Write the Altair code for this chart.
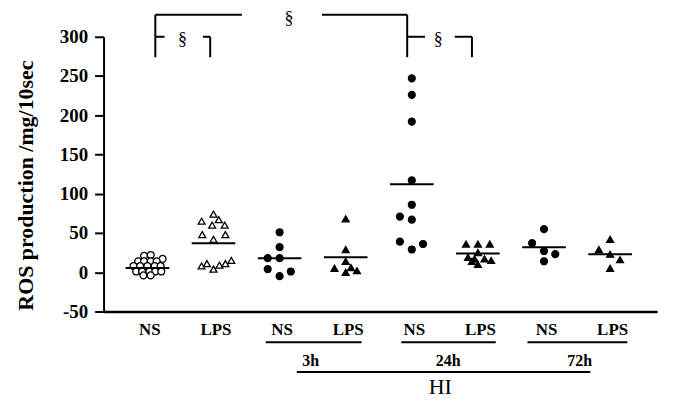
import altair as alt
import pandas as pd

# ---------------- data ----------------
group_labels = ["NS", "LPS", "NS", "LPS", "NS", "LPS", "NS", "LPS"]
group_marker = ["circle", "triangle", "circle", "triangle", "circle", "triangle", "circle", "triangle"]
group_fill = ["open", "open", "solid", "solid", "solid", "solid", "solid", "solid"]

ctrl_ns = [21, 22, 17, 14, 14, 14, 14, 8, 8, 8, 8, 8, 1, 1, 1, 1, 1, -4, -4]
ctrl_ns_jit = [-0.05, 0.05, 0.23, -0.14, -0.05, 0.05, 0.14, -0.21, -0.11, 0, 0.11, 0.2,
               -0.17, -0.08, 0.03, 0.12, 0.21, -0.06, 0.05]
ctrl_lps = [74, 67, 65, 60, 60, 48, 48, 42, 8, 11, 4, 9, 11, 15]
ctrl_lps_jit = [0, 0.08, -0.18, -0.02, 0.17, -0.17, 0.18, 0, -0.18, -0.1, 0, 0.09, 0.18, 0.27]
h3_ns = [51, 32, 18, 18, 4, 1, -5]
h3_ns_jit = [0, 0, -0.18, 0, -0.18, 0.17, 0]
h3_lps = [68, 29, 14, 5, 6, 0, 2]
h3_lps_jit = [0, 0, 0, -0.17, 0.08, 0, 0.17]
h24_ns = [247, 226, 192, 117, 86, 71, 67, 39, 29, 36]
h24_ns_jit = [0, 0, 0, 0, 0, -0.18, 0, -0.18, 0, 0.17]
h24_lps = [36, 36, 36, 25, 19, 17, 17, 15, 14, 10]
h24_lps_jit = [-0.18, 0, 0.18, 0, -0.15, -0.05, 0.1, 0.2, -0.09, 0]
h72_ns = [55, 37, 27, 23, 14]
h72_ns_jit = [0, -0.18, 0, 0.17, 0]
h72_lps = [42, 29, 23, 16, 5]
h72_lps_jit = [0, -0.17, 0, 0.15, 0]

group_means = [5.5, 37, 18, 19, 112, 24, 32, 23]

y_ticks = [-50, 0, 50, 100, 150, 200, 250, 300]

# significance brackets (data units: x = group index, y = ROS value)
bracket_x1 = [0.12, 2.64, 0.12, 3.93, 0.12, 0.84, 0.95, 3.93, 4.65, 4.91]
bracket_x2 = [1.43, 3.93, 0.12, 3.93, 0.26, 0.95, 0.95, 4.20, 4.91, 4.91]
bracket_y1 = [328, 328, 274, 274, 300, 300, 274, 300, 300, 274]
bracket_y2 = [328, 328, 328, 328, 300, 300, 300, 300, 300, 300]
sig_x = [2.14, 0.53, 4.40]
sig_y = [322, 296, 296]
sig_text = ["§", "§", "§"]

# lower group annotations
under_x1 = [1.79, 3.84, 5.75, 2.26]
under_x2 = [3.24, 5.27, 7.26, 6.70]
under_y = [-89, -89, -89, -127]
time_labels = ["3h", "24h", "72h"]
time_x = [2.47, 4.55, 6.54]
time_y = [-113.5, -113.5, -113.5]
hi_label = ["HI"]
hi_x = [4.43]
hi_y = [-146.5]

# ---------------- tables ----------------
series = [ctrl_ns, ctrl_lps, h3_ns, h3_lps, h24_ns, h24_lps, h72_ns, h72_lps]
jits = [ctrl_ns_jit, ctrl_lps_jit, h3_ns_jit, h3_lps_jit, h24_ns_jit, h24_lps_jit, h72_ns_jit, h72_lps_jit]
rows = []
for gi, (vals, jj) in enumerate(zip(series, jits)):
    for v, j in zip(vals, jj):
        rows.append({"pos": gi + j, "val": v, "marker": group_marker[gi], "fill": group_fill[gi]})
points = pd.DataFrame(rows)
means = pd.DataFrame({"g": list(range(8)), "mean": group_means})
brackets = pd.DataFrame({"x1": bracket_x1, "x2": bracket_x2, "y1": bracket_y1, "y2": bracket_y2})
sigs = pd.DataFrame({"x": sig_x, "y": sig_y, "t": sig_text})
unders = pd.DataFrame({"x1": under_x1, "x2": under_x2, "y": under_y})
times = pd.DataFrame({"x": time_x, "y": time_y, "t": time_labels})
his = pd.DataFrame({"x": hi_x, "y": hi_y, "t": hi_label})

FONT = "Liberation Serif"
xscale = alt.Scale(domain=[-0.663, 7.71], nice=False, zero=False)
yscale = alt.Scale(domain=[-50, 300], nice=False, zero=False)

label_expr = "[" + ",".join("'" + s + "'" for s in group_labels) + "][datum.value]"

xaxis = alt.Axis(values=list(range(8)), labelExpr=label_expr, title=None, ticks=False,
                 grid=False, domainColor="black", domainWidth=2.5, labelFont=FONT,
                 labelFontWeight="bold", labelFontSize=17, labelColor="black",
                 labelPadding=10, labelOffset=2, labelFlush=False, labelOverlap=False)
yaxis = alt.Axis(values=y_ticks, labelExpr="'' + datum.value", title="ROS production /mg/10sec",
                 grid=False, domainColor="black", domainWidth=2, tickColor="black",
                 tickWidth=2, tickSize=9, labelFont=FONT, labelFontWeight="bold",
                 labelFontSize=19, labelColor="black", labelPadding=7,
                 labelOverlap=False, labelFlush=False,
                 titleFont=FONT, titleFontWeight="bold", titleFontSize=22,
                 titleColor="black", titleAngle=-90, titleX=-78, titleY=149,
                 titleAlign="center", titleBaseline="middle")


def X(field):
    return alt.X(field, scale=xscale, axis=xaxis)


def Y(field):
    return alt.Y(field, scale=yscale, axis=yaxis)


pts = alt.Chart(points).mark_point(filled=True, stroke="black", strokeWidth=1.3, size=48, opacity=1).encode(
    x=X("pos:Q"),
    y=Y("val:Q"),
    shape=alt.Shape("marker:N", scale=alt.Scale(domain=["circle", "triangle"], range=["circle", "triangle-up"]), legend=None),
    fill=alt.Fill("fill:N", scale=alt.Scale(domain=["open", "solid"], range=["white", "black"]), legend=None),
)

mean_lines = alt.Chart(means).transform_calculate(
    a="datum.g - 0.33", b="datum.g + 0.33"
).mark_rule(color="black", strokeWidth=2).encode(
    x=X("a:Q"), x2="b:Q", y=Y("mean:Q")
)

br = alt.Chart(brackets).mark_rule(color="black", strokeWidth=2).encode(
    x=X("x1:Q"), x2="x2:Q", y=Y("y1:Q"), y2="y2:Q"
)
sg = alt.Chart(sigs).mark_text(font=FONT, fontSize=18, color="black").encode(
    x=X("x:Q"), y=Y("y:Q"), text="t:N"
)
un = alt.Chart(unders).mark_rule(color="black", strokeWidth=2).encode(
    x=X("x1:Q"), x2="x2:Q", y=Y("y:Q")
)
tm = alt.Chart(times).mark_text(font=FONT, fontSize=16, fontWeight="bold", color="black").encode(
    x=X("x:Q"), y=Y("y:Q"), text="t:N"
)
hi = alt.Chart(his).mark_text(font=FONT, fontSize=22, color="black").encode(
    x=X("x:Q"), y=Y("y:Q"), text="t:N"
)

chart = alt.layer(pts, mean_lines, br, sg, un, tm, hi).properties(
    width=556, height=276,
    autosize=alt.AutoSizeParams(type="none"),
    padding={"left": 96, "top": 28, "right": 10, "bottom": 90},
    background="white",
).configure_view(stroke=None)

chart.save("out.html", embed_options={"renderer": "svg", "actions": False})
